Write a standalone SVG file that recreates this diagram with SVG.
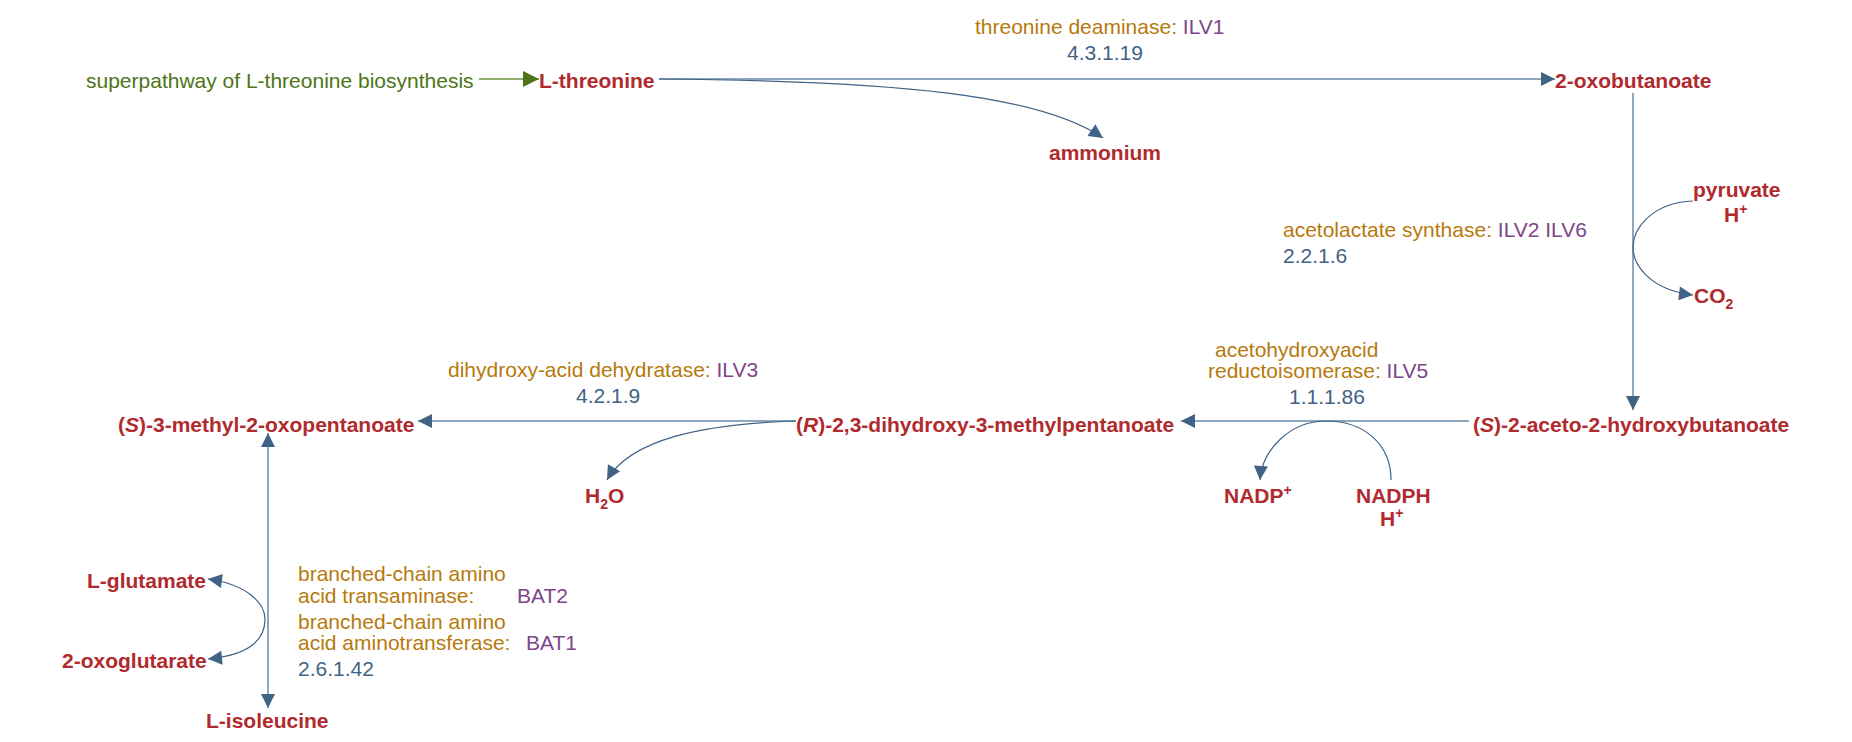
<svg xmlns="http://www.w3.org/2000/svg" width="1852" height="742" viewBox="0 0 1852 742">
<style>
text{font-family:"Liberation Sans",Arial,sans-serif;font-size:21px}
.c{fill:#b02a2e;font-weight:bold}
.e{fill:#b7790c}
.g{fill:#7e4589}
.n{fill:#3f6285}
.p{fill:#4d7417}
.l{fill:none;stroke:#8ea7be;stroke-width:2}
.t{fill:none;stroke:#3f6285;stroke-width:1.2}
.s{font-size:14px}
</style>
<defs>
<marker id="ab" viewBox="0 0 10 10" refX="10" refY="5" markerWidth="18" markerHeight="14" markerUnits="userSpaceOnUse" orient="auto-start-reverse"><path d="M0,0L10,5L0,10z" fill="#3f6285"/></marker>
<marker id="ag" viewBox="0 0 10 10" refX="10" refY="5" markerWidth="18" markerHeight="16" markerUnits="userSpaceOnUse" orient="auto"><path d="M0,0L10,5L0,10z" fill="#4d7417"/></marker>
</defs>
<g id="connectors">
<path d="M479,79H539" fill="none" stroke="#94b070" stroke-width="2" marker-end="url(#ag)"/>
<path class="l" d="M659,79H1555" marker-end="url(#ab)"/>
<path class="t" d="M659,79C900,81 1040,95 1103,138" marker-end="url(#ab)"/>
<path class="l" d="M1633,93V410" marker-end="url(#ab)"/>
<path class="t" d="M1693,201C1650,203 1633,230 1633,247C1633,265 1650,290 1693,295" marker-end="url(#ab)"/>
<path class="l" d="M1469,421H1181" marker-end="url(#ab)"/>
<path class="t" d="M1391,480C1391,445 1365,421 1326,421C1290,421 1262,450 1260,480" marker-end="url(#ab)"/>
<path class="l" d="M796,421H418" marker-end="url(#ab)"/>
<path class="t" d="M796,421C700,424 630,440 607,480" marker-end="url(#ab)"/>
<path class="l" d="M268,433V708" marker-start="url(#ab)" marker-end="url(#ab)"/>
<path class="t" d="M208,579C250,585 265,605 265,619C265,640 250,655 208,659" marker-start="url(#ab)" marker-end="url(#ab)"/>
</g>
<g id="superpathway"><text class="p" x="86" y="88">superpathway of L-threonine biosynthesis</text></g>
<g id="L-threonine"><text class="c" x="539" y="88">L-threonine</text></g>
<g id="r1"><text x="975" y="34"><tspan class="e">threonine deaminase:</tspan><tspan class="g"> ILV1</tspan></text><text class="n" x="1067" y="60">4.3.1.19</text></g>
<g id="oxobutanoate"><text class="c" x="1555" y="88">2-oxobutanoate</text></g>
<g id="ammonium"><text class="c" x="1049" y="160">ammonium</text></g>
<g id="pyruvate"><text class="c" x="1693" y="197">pyruvate</text><text class="c" x="1724" y="222">H<tspan class="s" dy="-8">+</tspan></text></g>
<g id="co2"><text class="c" x="1694" y="303">CO<tspan class="s" dy="6">2</tspan></text></g>
<g id="r2"><text x="1283" y="237"><tspan class="e">acetolactate synthase:</tspan><tspan class="g"> ILV2 ILV6</tspan></text><text class="n" x="1283" y="263">2.2.1.6</text></g>
<g id="acetohydroxybutanoate"><text class="c" x="1473" y="432">(<tspan font-style="italic">S</tspan>)-2-aceto-2-hydroxybutanoate</text></g>
<g id="r3"><text class="e" x="1215" y="357">acetohydroxyacid</text><text x="1208" y="378"><tspan class="e">reductoisomerase:</tspan><tspan class="g"> ILV5</tspan></text><text class="n" x="1289" y="404">1.1.1.86</text></g>
<g id="nadp"><text class="c" x="1224" y="503">NADP<tspan class="s" dy="-8">+</tspan></text></g>
<g id="nadph"><text class="c" x="1356" y="503">NADPH</text><text class="c" x="1380" y="526">H<tspan class="s" dy="-8">+</tspan></text></g>
<g id="dihydroxy"><text class="c" x="796" y="432">(<tspan font-style="italic">R</tspan>)-2,3-dihydroxy-3-methylpentanoate</text></g>
<g id="r4"><text x="448" y="377"><tspan class="e">dihydroxy-acid dehydratase:</tspan><tspan class="g"> ILV3</tspan></text><text class="n" x="576" y="403">4.2.1.9</text></g>
<g id="h2o"><text class="c" x="585" y="503">H<tspan class="s" dy="6">2</tspan><tspan dy="-6">O</tspan></text></g>
<g id="oxopentanoate"><text class="c" x="118" y="432">(<tspan font-style="italic">S</tspan>)-3-methyl-2-oxopentanoate</text></g>
<g id="glutamate"><text class="c" x="87" y="588">L-glutamate</text></g>
<g id="oxoglutarate"><text class="c" x="62" y="668">2-oxoglutarate</text></g>
<g id="isoleucine"><text class="c" x="206" y="728">L-isoleucine</text></g>
<g id="r5"><text class="e" x="298" y="581">branched-chain amino</text><text class="e" x="298" y="603">acid transaminase:</text><text class="g" x="517" y="603">BAT2</text><text class="e" x="298" y="629">branched-chain amino</text><text class="e" x="298" y="650">acid aminotransferase:</text><text class="g" x="526" y="650">BAT1</text><text class="n" x="298" y="676">2.6.1.42</text></g>
</svg>
